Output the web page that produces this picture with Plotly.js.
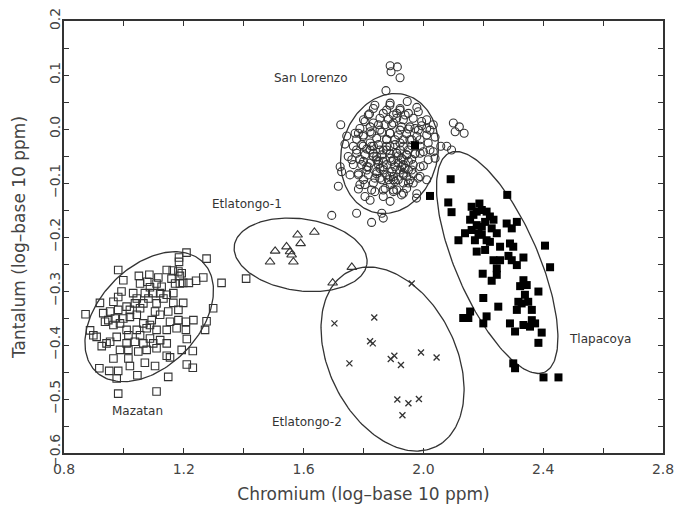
<!DOCTYPE html>
<html>
<head>
<meta charset="utf-8">
<script src="https://cdn.plot.ly/plotly-3.0.1.min.js"></script>
<style>html,body{margin:0;padding:0;background:#fff;}#chart{width:676px;height:506px;}</style>
</head>
<body>
<div id="chart"></div>
<script>
// ---- Data (Chromium, Tantalum in log10 ppm) ----
const mazatanCr = [1.209,1.184,1.184,1.276,0.981,1.143,1.163,1.182,1.193,1.187,
1.050,1.085,1.115,0.998,1.241,1.265,1.217,1.326,1.408,1.054,
1.078,1.109,1.126,1.087,1.171,1.187,1.198,1.159,0.992,1.031,
1.070,1.098,1.121,1.143,1.165,1.082,1.109,0.981,0.965,0.920,
1.165,1.198,1.132,1.037,1.065,1.043,1.009,1.020,1.054,0.981,
0.954,0.931,0.872,1.298,1.148,1.182,1.104,1.121,1.043,1.020,
0.998,0.970,0.948,0.937,1.093,1.154,1.182,1.207,1.232,1.276,
1.065,1.087,0.965,0.987,1.009,1.043,1.076,1.109,1.143,1.176,
1.207,1.271,0.887,0.898,0.909,0.976,1.015,1.054,1.087,1.121,
1.143,1.210,0.942,0.926,0.954,1.009,1.037,1.065,1.098,0.987,
1.015,1.048,1.076,1.109,1.143,1.154,1.193,1.230,0.965,1.015,
1.070,1.104,1.210,1.230,0.918,0.951,0.981,1.020,1.045,0.976,
1.148,0.981,1.109];
const mazatanTa = [-0.229,-0.238,-0.246,-0.240,-0.261,-0.261,-0.262,-0.264,-0.267,-0.272,
-0.272,-0.270,-0.275,-0.280,-0.281,-0.275,-0.285,-0.285,-0.277,-0.286,
-0.283,-0.286,-0.292,-0.293,-0.286,-0.286,-0.285,-0.277,-0.301,-0.304,
-0.304,-0.304,-0.304,-0.307,-0.304,-0.314,-0.323,-0.311,-0.320,-0.322,
-0.322,-0.322,-0.314,-0.323,-0.323,-0.314,-0.329,-0.335,-0.332,-0.335,
-0.338,-0.341,-0.343,-0.332,-0.338,-0.335,-0.338,-0.344,-0.344,-0.348,
-0.351,-0.351,-0.354,-0.357,-0.354,-0.357,-0.354,-0.357,-0.354,-0.356,
-0.360,-0.363,-0.363,-0.360,-0.372,-0.372,-0.369,-0.372,-0.372,-0.369,
-0.372,-0.372,-0.373,-0.382,-0.385,-0.385,-0.382,-0.382,-0.388,-0.391,
-0.397,-0.389,-0.397,-0.402,-0.394,-0.397,-0.394,-0.397,-0.397,-0.409,
-0.409,-0.412,-0.409,-0.406,-0.420,-0.423,-0.409,-0.411,-0.425,-0.425,
-0.433,-0.439,-0.436,-0.442,-0.443,-0.448,-0.448,-0.439,-0.456,-0.462,
-0.459,-0.490,-0.486];

const sanLorenzoCr = [1.889,1.946,1.922,1.833,1.978,1.877,
1.983,1.911,1.939,1.820,1.855,1.883,1.911,1.966,2.011,1.800,
2.033,1.994,1.972,1.950,1.927,1.894,1.872,1.850,1.822,1.788,1.724,2.022,
1.772,1.744,1.800,1.827,1.861,1.889,1.916,1.944,1.978,2.011,2.039,1.777,1.844,1.877,1.905,1.933,1.961,
1.738,1.766,1.794,1.822,1.850,1.877,1.905,1.933,1.961,1.989,2.022,1.811,1.866,1.922,1.950,
1.749,1.777,1.805,1.833,1.861,1.889,1.916,1.944,1.972,1.989,2.039,1.788,1.844,1.900,1.933,1.961,
1.722,1.766,1.794,1.822,1.850,1.877,1.905,1.933,1.966,2.000,1.811,1.866,1.922,1.950,
1.727,1.755,1.783,1.816,1.844,1.877,1.900,1.933,1.966,1.989,2.011,1.800,1.861,1.916,1.955,
1.716,1.788,1.833,1.889,1.933,1.966,1.783,1.872,1.911,1.944,
1.805,1.822,1.838,1.866,1.900,1.927,1.978,1.889,
1.861,1.866,1.777,1.694,1.827,
1.889,1.913,1.892,1.922,1.875,
2.100,2.120,2.106,2.136,2.078,2.094,2.058,
1.822,1.844,1.866,1.889,1.911,1.833,1.877,1.855,1.894,1.916,1.939,1.800,1.777,1.761,1.816,1.838,1.883,1.905,1.944,1.927,
1.838,1.888,1.922,1.950,1.900,1.866,1.816,1.805,1.994,2.011,
1.783,1.799,1.783,1.805,1.827,1.866,1.900,1.933,1.977,1.983,
1.950,1.900,1.855,1.811,1.833,1.855,1.888,1.922,1.955,1.989,
2.016,2.033,2.016,1.989,1.961,1.927,1.894,1.866,1.844,1.827,
1.799,1.855,1.888,1.922,1.955,1.983,1.911,1.944,1.972,2.000,
1.877,1.933,1.911,1.950,1.888,1.850,1.822,1.833,1.900,1.933];
const sanLorenzoTa = [0.048,0.051,0.038,0.038,0.040,0.035,
0.032,0.029,0.026,0.028,0.020,0.018,0.020,0.020,0.017,0.017,
0.008,0.006,0.001,0.000,0.004,0.008,0.008,0.008,0.004,0.001,0.008,-0.002,
-0.008,-0.013,-0.011,-0.008,-0.006,-0.008,-0.011,-0.009,-0.014,-0.011,-0.015,-0.019,-0.017,-0.019,-0.020,-0.020,-0.020,
-0.028,-0.032,-0.029,-0.026,-0.029,-0.032,-0.029,-0.032,-0.031,-0.032,-0.039,-0.037,-0.039,-0.039,-0.039,
-0.051,-0.045,-0.048,-0.045,-0.048,-0.046,-0.050,-0.048,-0.046,-0.045,-0.054,-0.056,-0.057,-0.057,-0.057,-0.056,
-0.070,-0.066,-0.066,-0.063,-0.066,-0.066,-0.070,-0.066,-0.066,-0.068,-0.076,-0.076,-0.076,-0.076,
-0.079,-0.085,-0.082,-0.085,-0.083,-0.085,-0.088,-0.085,-0.083,-0.088,-0.094,-0.094,-0.094,-0.094,-0.094,
-0.106,-0.103,-0.100,-0.103,-0.100,-0.100,-0.111,-0.110,-0.113,-0.110,
-0.125,-0.132,-0.116,-0.125,-0.116,-0.122,-0.120,-0.134,
-0.156,-0.165,-0.156,-0.160,-0.173,
0.117,0.115,0.106,0.095,0.071,
0.011,0.004,-0.005,-0.008,-0.032,-0.039,-0.032,
-0.039,-0.051,-0.060,-0.054,-0.045,-0.032,-0.039,-0.073,-0.079,-0.063,-0.073,-0.060,-0.039,-0.057,-0.070,-0.091,-0.094,-0.097,-0.088,-0.054,
0.044,0.044,0.035,0.029,0.026,0.029,0.026,0.014,0.014,0.001,
-0.008,-0.032,-0.085,-0.103,-0.113,-0.113,-0.113,-0.119,-0.128,-0.091,
-0.100,-0.094,-0.091,-0.070,-0.051,-0.039,-0.032,-0.026,-0.020,-0.020,
-0.026,-0.042,-0.057,-0.070,-0.076,-0.070,-0.060,-0.070,-0.079,-0.032,
-0.014,-0.002,-0.008,-0.002,0.004,-0.002,-0.045,-0.048,-0.045,-0.042,
-0.020,-0.082,-0.076,-0.060,-0.088,-0.060,-0.005,0.011,0.011,0.017];

const tlapacoyaCr = [1.972,2.091,2.022,2.280,2.083,2.094,2.161,2.187,2.195,2.167,2.156,
2.222,2.178,2.195,2.228,2.161,2.278,2.312,2.295,2.139,2.117,
2.195,2.211,2.245,2.222,2.178,2.206,2.289,2.300,2.406,2.284,
2.334,2.234,2.256,2.245,2.312,2.423,2.198,2.245,2.228,2.334,
2.323,2.200,2.339,2.384,2.317,2.350,2.250,2.312,2.362,2.156,
2.133,2.150,2.211,2.200,2.289,2.306,2.334,2.362,2.373,2.356,
2.395,2.384,2.300,2.306,2.401,2.451,
2.178,2.206,2.184,2.234,2.172,2.256,2.328,2.345,2.211,2.295];
const tlapacoyaTa = [-0.030,-0.093,-0.124,-0.122,-0.136,-0.154,-0.144,-0.138,-0.150,-0.159,-0.168,
-0.162,-0.178,-0.181,-0.184,-0.187,-0.175,-0.172,-0.184,-0.193,-0.206,
-0.196,-0.206,-0.193,-0.209,-0.227,-0.224,-0.212,-0.218,-0.216,-0.235,
-0.238,-0.243,-0.243,-0.258,-0.252,-0.256,-0.268,-0.270,-0.281,-0.280,
-0.291,-0.313,-0.307,-0.301,-0.320,-0.320,-0.329,-0.335,-0.335,-0.338,
-0.350,-0.350,-0.347,-0.360,-0.360,-0.375,-0.363,-0.354,-0.360,-0.366,
-0.377,-0.396,-0.434,-0.443,-0.460,-0.460,
-0.153,-0.172,-0.193,-0.168,-0.206,-0.218,-0.323,-0.289,-0.153,-0.243];

const etlatongo1Cr = [1.580,1.636,1.590,1.543,1.505,1.555,1.560,1.488,1.566,1.761,1.697];
const etlatongo1Ta = [-0.196,-0.191,-0.212,-0.218,-0.226,-0.227,-0.233,-0.246,-0.246,-0.256,-0.285];

const etlatongo2Cr = [1.703,1.836,1.822,1.831,1.753,1.891,1.903,1.925,1.992,2.044,1.961,1.913,1.950,1.985,1.930];
const etlatongo2Ta = [-0.360,-0.349,-0.393,-0.397,-0.434,-0.426,-0.420,-0.437,-0.414,-0.423,-0.286,-0.501,-0.508,-0.500,-0.530];

// Ellipses: centre and two conjugate semi-axis vectors (data units)
const ellipseNames = ['Mazatan','San Lorenzo','Etlatongo-1','Etlatongo-2','Tlapacoya'];
const ellipseCr    = [1.0845, 1.8868, 1.590, 1.897, 2.2464];
const ellipseTa    = [-0.3476, -0.0454, -0.233, -0.426, -0.2472];
const axis1Cr      = [0.178, 0.0524, 0.2214, 0.1452, 0.1579];
const axis1Ta      = [0.1017, 0.1087, -0.0172, -0.1622, -0.2033];
const axis2Cr      = [0.1199, 0.1549, -0.0167, -0.1897, -0.1272];
const axis2Ta      = [-0.0644, -0.0230, -0.0659, -0.0522, -0.0304];

// Group labels
const labelText = ['San Lorenzo','Etlatongo-1','Mazatan','Etlatongo-2','Tlapacoya'];
const labelCr   = [1.625, 1.410, 1.047, 1.613, 2.590];
const labelTa   = [0.094, -0.138, -0.522, -0.543, -0.388];

// ---- Build traces ----
const traces = [];
const N = 200;
for (let k = 0; k < ellipseNames.length; k++) {
  const ex = [], ey = [];
  for (let i = 0; i <= N; i++) {
    const t = 2 * Math.PI * i / N;
    ex.push(ellipseCr[k] + axis1Cr[k] * Math.cos(t) + axis2Cr[k] * Math.sin(t));
    ey.push(ellipseTa[k] + axis1Ta[k] * Math.cos(t) + axis2Ta[k] * Math.sin(t));
  }
  traces.push({x: ex, y: ey, mode: 'lines', type: 'scatter', hoverinfo: 'skip',
    line: {color: '#333', width: 1.3}, showlegend: false});
}
const ptLine = {color: '#333', width: 1.1};
traces.push({x: mazatanCr, y: mazatanTa, mode: 'markers', type: 'scatter', name: 'Mazatan',
  marker: {symbol: 'square-open', size: 7.5, color: '#333', line: ptLine}});
traces.push({x: sanLorenzoCr, y: sanLorenzoTa, mode: 'markers', type: 'scatter', name: 'San Lorenzo',
  marker: {symbol: 'circle-open', size: 8, color: '#333', line: ptLine}});
traces.push({x: tlapacoyaCr, y: tlapacoyaTa, mode: 'markers', type: 'scatter', name: 'Tlapacoya',
  marker: {symbol: 'square', size: 8, color: '#000'}});
traces.push({x: etlatongo1Cr, y: etlatongo1Ta, mode: 'markers', type: 'scatter', name: 'Etlatongo-1',
  marker: {symbol: 'triangle-up-open', size: 8.5, color: '#333', line: ptLine}});
traces.push({x: etlatongo2Cr, y: etlatongo2Ta, mode: 'markers', type: 'scatter', name: 'Etlatongo-2',
  marker: {symbol: 'x-thin-open', size: 6, color: '#333', line: {color: '#333', width: 1.3}}});

const font = 'DejaVu Sans, Verdana, sans-serif';
const annotations = labelText.map((t, i) => ({
  x: labelCr[i], y: labelTa[i], xref: 'x', yref: 'y', text: t, showarrow: false,
  font: {family: font, size: 12, color: '#333'}
}));

const axisCommon = {
  showgrid: false, zeroline: false, showline: true, linecolor: '#333', linewidth: 1.6,
  mirror: 'ticks', ticks: 'inside', ticklen: 5, tickwidth: 1, tickcolor: '#333',
  tickfont: {family: font, size: 14, color: '#444'}, tickformat: '.1f'
};

const layout = {
  width: 676, height: 506,
  margin: {l: 64, r: 13, t: 21, b: 53},
  paper_bgcolor: '#fff', plot_bgcolor: '#fff',
  showlegend: false,
  font: {family: font, color: '#333'},
  xaxis: Object.assign({}, axisCommon, {
    range: [0.8, 2.8], tick0: 0.8, dtick: 0.4, ticklabelstandoff: 3,
    minor: {dtick: 0.2, ticks: 'inside', ticklen: 5, tickcolor: '#333'},
    title: {text: 'Chromium (log\u2013base 10 ppm)', font: {family: font, size: 17, color: '#444'}, standoff: 11}
  }),
  yaxis: Object.assign({}, axisCommon, {
    range: [-0.6, 0.2], tick0: 0, dtick: 0.1, tickangle: -90, ticklabelstandoff: -3,
    minor: {dtick: 0.05, ticks: 'inside', ticklen: 5, tickcolor: '#333'},
    title: {text: 'Tantalum (log\u2013base 10 ppm)', font: {family: font, size: 17, color: '#444'}, standoff: 17}
  }),
  annotations: annotations
};

Plotly.newPlot('chart', traces, layout, {staticPlot: true, displayModeBar: false});
</script>
</body>
</html>
